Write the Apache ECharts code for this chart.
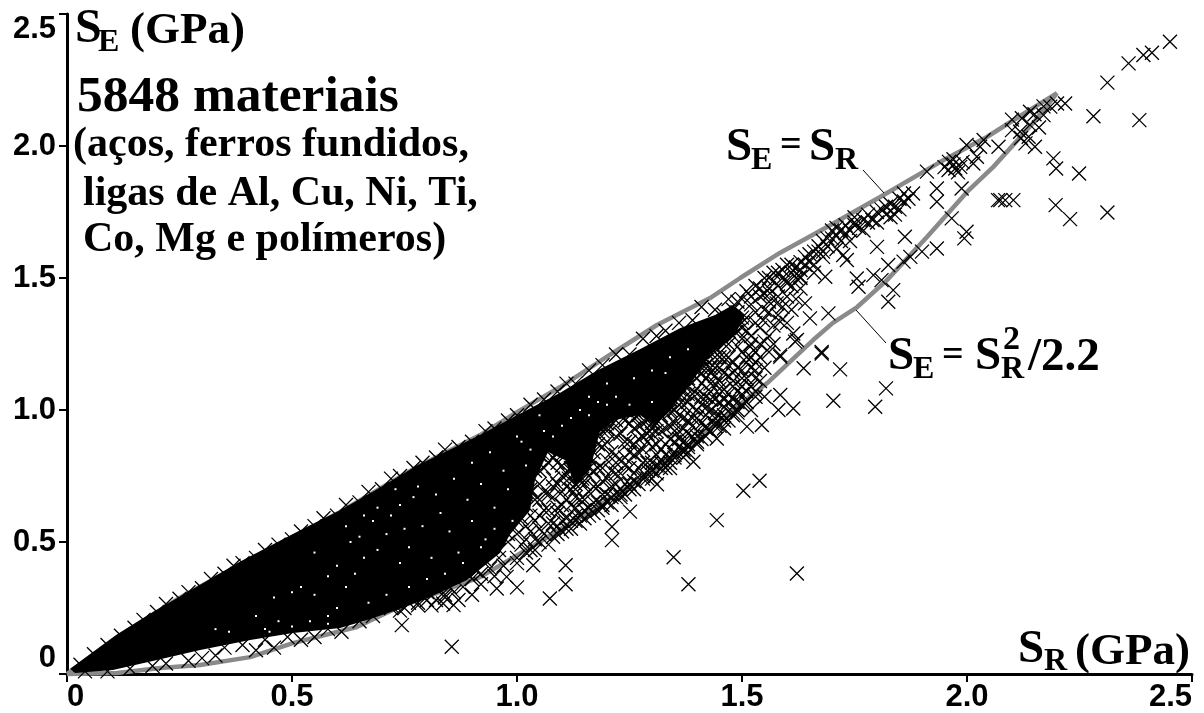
<!DOCTYPE html>
<html><head><meta charset="utf-8">
<style>html,body{margin:0;padding:0;background:#fff}#c{width:1204px;height:713px}</style>
<script src="https://cdn.jsdelivr.net/npm/echarts@6/dist/echarts.min.js"></script>
</head><body><div id="c"></div>
<script>
const tickValues=[0,0.5,1,1.5,2,2.5];
const upperBoundary=[[0,0],[.111,.14],[.25,.288],[.384,.413],[.502,.519],[.607,.614],[.778,.784],[.918,.905],[1,.992],[1.096,1.087],[1.213,1.216],[1.311,1.322],[1.429,1.424],[1.496,1.5],[1.584,1.595],[1.689,1.693],[1.807,1.807],[1.94,1.939],[2.044,2.034],[2.111,2.106],[2.2,2.2]];
const lowerBoundary=[[2.2,2.2],[2.147,2.087],[2.058,1.92],[2,1.826],[1.911,1.655],[1.822,1.492],[1.756,1.39],[1.702,1.33],[1.658,1.265],[1.556,1.102],[1.48,1],[1.391,.875],[1.296,.761],[1.184,.64],[1.058,.508],[.918,.367],[.733,.25],[.644,.178],[.502,.117],[.407,.064],[.296,.034],[.207,.023],[.111,.004],[0,0]];
// outline of the saturated part of the cloud, where the crosses merge into solid black
const saturatedCore=[[.007,.02],[.111,.15],[.191,.235],[.273,.315],[.384,.425],[.502,.53],[.607,.62],[.689,.7],[.778,.79],[.918,.905],[1,.98],[1.096,1.065],[1.178,1.15],[1.273,1.23],[1.362,1.31],[1.44,1.36],[1.48,1.398],[1.507,1.36],[1.484,1.284],[1.429,1.208],[1.384,1.095],[1.344,1.008],[1.307,.943],[1.273,.981],[1.218,.962],[1.184,.917],[1.162,.773],[1.129,.716],[1.107,.811],[1.069,.841],[1.04,.735],[1.029,.621],[.984,.527],[.962,.458],[.889,.356],[.807,.292],[.733,.242],[.667,.205],[.607,.174],[.502,.155],[.407,.129],[.296,.091],[.2,.053],[.102,.015],[.018,.004]];
const sparsePoints=[[2.451,2.395],[2.411,2.353],[2.392,2.345],[2.359,2.313],[2.312,2.24],[2.281,2.113],[2.383,2.098],[2.218,2.161],[2.2,2.161],[2.185,2.149],[2.17,2.117],[2.151,1.997],[2.137,2.035],[2.118,2.054],[2.07,1.997],[2.122,2.105],[2.192,1.953],[2.198,1.915],[2.249,1.896],[2.197,1.776],[2.229,1.723],[2.312,1.748],[2.103,1.795],[2.085,1.795],[2.074,1.795],[2.069,1.795],[1.999,1.675],[1.994,1.65],[1.966,1.726],[1.988,1.839],[1.933,1.839],[1.933,1.789],[1.911,1.903],[1.974,1.915],[1.959,1.909],[1.985,1.921],[2.029,1.997],[1.999,2.004],[2.037,2.023],[2.022,1.959],[2.014,1.934],[.855,.103],[1.073,.286],[1.108,.34],[1.108,.412],[1,.328],[1.211,.507],[1.211,.558],[1.251,.615],[1.348,.442],[1.381,.34],[1.444,.583],[1.503,.694],[1.539,.732],[1.622,.381],[1.311,.719],[1.392,.804],[1.444,.892],[1.511,.937],[1.544,.943],[1.585,1.057],[1.614,1.006],[1.581,1],[1.703,1.035],[1.796,1.012],[1.82,1.082],[1.718,1.154],[1.637,1.158],[1.677,1.214],[1.585,1.202],[1.618,1.259],[.744,.185],[.859,.261],[.836,.267],[.955,.324],[.977,.368],[1.036,.412],[1.862,1.656],[1.8,1.618],[1.733,1.568],[1.725,1.587],[1.933,1.612],[1.9,1.6],[1.874,1.58],[1.859,1.562],[1.825,1.549],[1.792,1.511],[1.81,1.492],[1.755,1.498],[1.759,1.467],[1.836,1.454],[1.825,1.41],[1.685,1.505],[1.64,1.404],[1.692,1.366],[1.651,1.347],[1.585,1.334],[1.614,1.29],[1.622,1.265],[1.677,1.22],[1.585,1.208],[1.518,1.24],[1.547,1.34],[1.562,1.442],[1.6,1.48],[1.629,1.505],[1.577,1.404],[1.54,1.11],[1.5,1.06],[1.52,1.0],[1.47,1.03],[1.44,.97],[1.42,.93],[1.38,.86],[1.35,.83],[1.55,1.05]];
const ridgePoints=[[1.5,1.42],[1.51,1.45],[1.52,1.4],[1.53,1.47],[1.54,1.43],[1.55,1.5],[1.55,1.44],[1.56,1.46],[1.57,1.49],[1.57,1.52],[1.58,1.47],[1.59,1.5],[1.59,1.53],[1.6,1.49],[1.6,1.55],[1.61,1.52],[1.62,1.54],[1.62,1.5],[1.63,1.56],[1.64,1.55],[1.64,1.58],[1.65,1.56],[1.66,1.6],[1.66,1.55],[1.67,1.62],[1.68,1.6],[1.68,1.64],[1.69,1.62],[1.7,1.65],[1.7,1.68],[1.71,1.66],[1.72,1.68],[1.72,1.64],[1.73,1.7],[1.74,1.68],[1.75,1.7],[1.75,1.73],[1.76,1.69],[1.77,1.72],[1.78,1.71],[1.78,1.74],[1.79,1.72],[1.8,1.75],[1.8,1.71],[1.81,1.76],[1.82,1.77],[1.82,1.74],[1.83,1.78],[1.84,1.77],[1.85,1.8],[1.85,1.76],[1.86,1.82],[1.87,1.8],[1.88,1.82],[1.86,1.79],[1.84,1.74],[1.83,1.73],[1.77,1.68],[1.74,1.64],[1.71,1.61],[1.68,1.58],[1.66,1.52],[1.63,1.5],[1.61,1.47],[1.58,1.43],[1.56,1.41],[1.53,1.37],[1.54,1.31],[1.56,1.37],[1.51,1.35],[1.49,1.3],[1.52,1.28],[1.55,1.26],[1.5,1.22],[1.47,1.25],[1.48,1.18],[1.45,1.2],[1.52,1.16],[1.46,1.14],[1.42,1.17],[1.43,1.1],[1.48,1.09],[1.4,1.08],[1.45,1.06],[2.1,2.06],[2.12,2.03],[2.14,2.08],[2.15,2.12],[2.16,2.07],[2.17,2.15],[2.14,2.13],[2.1,2.1],[2.13,2.01],[1.97,1.93],[1.98,1.9],[1.96,1.94],[1.95,1.92],[1.97,1.95],[1.99,1.94],[1.52,1.43],[1.54,1.46],[1.56,1.5],[1.58,1.52],[1.61,1.55],[1.63,1.53],[1.65,1.59],[1.67,1.6],[1.69,1.65],[1.71,1.69],[1.73,1.67],[1.75,1.71],[1.48,1.38],[1.49,1.41],[1.46,1.36],[1.47,1.33],[1.5,1.33],[1.51,1.3],[1.53,1.33],[1.55,1.38],[1.52,1.25],[1.5,1.27],[1.47,1.2],[1.49,1.16],[1.51,1.2],[1.53,1.18],[1.45,1.16],[1.43,1.14],[1.41,1.1],[1.44,1.22]];
const pocketPoints=[[1,.62],[1.01,.68],[1.02,.56],[1.02,.72],[1.03,.6],[1.04,.66],[1.04,.83],[1.05,.55],[1.05,.72],[1.06,.78],[1.06,.62],[1.07,.68],[1.07,.85],[1.08,.57],[1.08,.74],[1.09,.63],[1.09,.8],[1.1,.69],[1.1,.58],[1.11,.76],[1.11,.86],[1.12,.64],[1.12,.82],[1.13,.6],[1.13,.72],[1.14,.79],[1.14,.66],[1.15,.85],[1.15,.62],[1.16,.75],[1.16,.69],[1.17,.92],[1.17,.81],[1.18,.65],[1.18,.87],[1.19,.73],[1.19,.78],[1.2,.68],[1.2,.95],[1.21,.84],[1.21,.71],[1.22,.9],[1.22,.76],[1.23,.67],[1.23,.98],[1.24,.82],[1.24,.72],[1.25,.88],[1.25,.78],[1.26,.93],[1.26,.7],[1.27,.84],[1.27,1],[1.28,.75],[1.28,.9],[1.29,.8],[1.29,.96],[1.3,.86],[1.3,.74],[1.31,1.02],[1.31,.92],[1.32,.78],[1.32,.98],[1.33,.87],[1.33,1.05],[1.34,.82],[1.34,.94],[1.35,1],[1.35,.88],[1.36,1.08],[1.36,.92],[1.37,.84],[1.37,1.02],[1.38,.96],[1.38,1.12],[1.39,.9],[1.39,1.06],[1.4,1],[1.4,.88],[1.41,1.14],[1.41,.95],[1.42,1.05],[1.42,.9],[1.43,1],[1.43,1.16],[1.44,.94],[1.44,1.1],[1.45,1.03],[1.45,.98],[1.46,1.2],[1.46,1.08],[1.47,.96],[1.47,1.13],[1.48,1.04],[1.49,1.24],[1.49,.99],[1.5,1.12],[1.5,1.02],[1.51,1.18],[1.51,1.07],[1.53,1.22],[1.53,1.12],[1.02,.64],[1.05,.66],[1.08,.67],[1.11,.71],[1.13,.67],[1.16,.82],[1.18,.71],[1.21,.77],[1.24,.88],[1.27,.78],[1.3,.8],[1.33,.93],[1.36,.86],[1.39,.97],[1.42,.98],[1.45,1.11],[1.48,1.11],[1.12,.77],[1.15,.72],[1.19,.86],[1.22,.83],[1.26,.83],[1.29,.88],[1.32,.85],[1.35,.95],[1.38,1.03],[1.41,1.02],[1.44,1.04],[1.35,1.06],[1.3,.98],[1.25,.95],[1.28,1.02],[1.2,.88],[1.33,.99],[1.37,.97],[1.4,1.06],[1.43,1.07],[1.46,1.01],[1.31,.83],[1.27,.94],[1.23,.91],[1.17,.77],[1.14,.73],[1.09,.72],[1.06,.69]];
const pocketExtra=[[.98,.5],[.99,.56],[1,.53],[1.01,.59],[1.02,.51],[1.03,.54],[1.03,.69],[1.04,.58],[1.05,.6],[1.06,.53],[1.07,.57],[1.07,.62],[1.08,.71],[1.09,.56],[1.09,.61],[1.1,.64],[1.1,.75],[1.11,.59],[1.11,.66],[1.12,.58],[1.12,.7],[1.13,.63],[1.13,.76],[1.14,.6],[1.15,.66],[1.15,.77],[1.16,.63],[1.17,.65],[1.17,.71],[1.18,.62],[1.18,.78],[1.19,.68],[1.2,.65],[1.2,.74],[1.2,.81],[1.21,.67],[1.22,.72],[1.22,.8],[1.23,.7],[1.23,.76],[1.24,.68],[1.24,.79],[1.25,.72],[1.25,.84],[1.26,.76],[1.26,.87],[1.27,.72],[1.27,.89],[1.28,.8],[1.28,.85],[1.29,.74],[1.29,.91],[1.3,.77],[1.3,.91],[1.31,.79],[1.31,.87],[1.32,.81],[1.32,.92],[1.33,.78],[1.33,.83],[1.34,.89],[1.34,.99],[1.35,.84],[1.35,.92],[1.36,.89],[1.36,.98],[1.37,.88],[1.37,.93],[1.38,.84],[1.38,.91],[1.39,.94],[1.39,1.01],[1.4,.92],[1.4,.97],[1.41,.89],[1.41,1.05],[1.42,.94],[1.42,1.01],[1.43,.92],[1.43,1.04],[1.44,.99],[1.44,1.13],[1.45,.94],[1.45,1.08],[1.46,.98],[1.46,1.04],[1.47,1.06],[1.47,1.17],[1.48,.99],[1.48,1.14],[1.49,1.07],[1.49,1.03],[1.5,1.09],[1.5,1.15],[1.51,1.03],[1.51,1.12],[1.52,1.09],[1.52,1.2],[1.53,1.07],[1.53,1.15],[1.54,1.2],[1.54,1.25],[1.55,1.16],[1.56,1.22],[1.56,1.28],[1.57,1.32],[1.58,1.36],[1.57,1.25],[1.59,1.39],[1.6,1.43],[1.6,1.33],[1.61,1.38],[1.62,1.42],[1.63,1.46],[1.24,1],[1.26,1],[1.29,1.04],[1.31,1.05],[1.33,1.09],[1.35,1.12],[1.37,1.1],[1.39,1.16],[1.41,1.19],[1.42,1.22],[1.44,1.16],[1.3,.95],[1.32,1.03],[1.34,1.04],[1.36,1.02],[1.38,1.06],[1.4,1.12],[1.42,1.12],[1.18,.94],[1.2,.92],[1.22,.94],[1.16,.87],[1.14,.83],[1.12,.87],[1.1,.83],[1.08,.82],[1.06,.83],[1.04,.77],[.96,.44],[.94,.4],[.92,.38],[.93,.43],[.9,.36],[.88,.33],[.89,.38],[.86,.31],[.84,.3],[.85,.33],[.82,.28],[.8,.28],[.78,.26],[.8,.31],[.76,.27],[.74,.24],[.72,.26],[1,.44],[1.01,.49],[1.03,.47],[1.04,.51],[1.05,.5],[1.08,.52],[1.1,.54],[1.12,.55],[1.14,.57],[1.15,.59],[1.17,.61],[1.19,.64],[1.21,.64],[1.23,.68],[1.26,.73],[1.29,.77],[1.32,.8],[1.35,.82],[1.38,.87],[1.4,.9],[1.44,.95],[1.46,.93],[1.34,.78],[1.37,.82]];
const upperFringe=[[.03,.035],[.06,.075],[.09,.11],[.12,.145],[.15,.175],[.17,.205],[.2,.235],[.22,.265],[.25,.285],[.27,.31],[.3,.325],[.32,.36],[.35,.38],[.37,.41],[.39,.42],[.42,.44],[.44,.47],[.47,.49],[.5,.51],[.52,.54],[.55,.56],[.57,.59],[.6,.6],[.62,.64],[.65,.65],[.67,.69],[.7,.7],[.72,.74],[.74,.75],[.77,.78],[.79,.8],[.82,.82],[.84,.85],[.87,.86],[.9,.88],[.93,.92],[.95,.93],[.98,.96],[1,.98],[1.03,1.02],[1.06,1.04],[1.09,1.07],[1.11,1.1],[1.13,1.1],[1.16,1.15],[1.19,1.17],[1.22,1.21],[1.25,1.21],[1.28,1.27],[1.31,1.28],[1.33,1.3],[1.36,1.33],[1.39,1.34],[1.41,1.39],[1.44,1.38],[1.47,1.42],[1.42,1.29],[1.45,1.31],[1.4,1.27],[1.38,1.25],[1.35,1.22],[1.49,1.37],[1.47,1.3],[1.5,1.31],[1.44,1.24],[1.41,1.21],[1.38,1.19],[1.35,1.16],[1.32,1.13],[1.29,1.11],[1.25,1.09],[1.21,1.04],[1.18,1.02],[1.15,.96],[1.14,.91]];
const lowerFringe=[[.04,.01],[.09,.01],[.14,.02],[.19,.03],[.22,.04],[.27,.05],[.3,.06],[.33,.07],[.35,.1],[.39,.11],[.42,.09],[.44,.13],[.46,.1],[.49,.14],[.52,.13],[.55,.14],[.58,.17],[.61,.16],[.65,.2],[.68,.22],[.72,.25],[.75,.25],[.78,.27],[.81,.26],[.84,.29],[.87,.28],[.9,.3],[.92,.34],[.95,.37],[.97,.41],[1,.42],[1.02,.46],[1.04,.47],[1.07,.49],[1.09,.53],[1.11,.55],[1.13,.58],[1.16,.6],[1.19,.63],[1.22,.67],[1.25,.7],[1.28,.74],[1.31,.76],[1.34,.8],[1.37,.85],[1.4,.87],[1.43,.92],[1.46,.96],[1.48,.98],[1.49,1],[1.51,1.03],[1.53,1.05]];
// crosses that straddle the edge of the saturated area
const coreEdge=[[1.03,.7],[1.05,.77],[1.07,.8],[1.09,.84],[1.1,.79],[1.115,.74],[1.13,.7],[1.145,.74],[1.16,.78],[1.17,.84],[1.18,.9],[1.2,.93],[1.22,.96],[1.24,.96],[1.26,.97],[1.28,.95],[1.3,.93],[1.32,.97],[1.34,1],[1.36,1.05],[1.38,1.09],[1.4,1.15],[1.42,1.19],[1.44,1.2],[1.46,1.25],[1.48,1.28],[1.5,1.35],[1.05,.83],[1.12,.78],[1.19,.92],[1.27,.98],[1.31,.95],[1.37,1.07],[1.41,1.16],[1,.58],[.98,.53],[.96,.47],[.91,.39],[1.01,.64],[1.02,.68]];
// small unfilled specks left between crosses inside the saturated area
const coreGaps=[[.46,.29],[.5,.31],[.52,.33],[.55,.3],[.58,.37],[.6,.41],[.62,.33],[.64,.38],[.66,.44],[.69,.47],[.71,.53],[.74,.42],[.76,.48],[.79,.56],[.81,.44],[.83,.61],[.85,.54],[.87,.46],[.89,.66],[.9,.58],[.92,.72],[.93,.51],[.95,.63],[.97,.77],[.98,.7],[.99,.58],[.42,.22],[.44,.17],[.47,.2],[.5,.18],[.36,.16],[.33,.17],[.58,.22],[.6,.25],[.72,.6],[.74,.64],[.75,.55],[.77,.67],[.68,.58],[.66,.6],[.63,.5],[.55,.46],[1.03,.85],[1.06,.92],[1.1,.94],[1.14,1.0],[1.16,1.05],[1.2,1.1],[1.05,.98],[1.01,.88],[.62,.56],[.65,.52],[.69,.63],[.73,.7],[.78,.71],[.82,.68],[.86,.74],[.9,.8],[.94,.84],[1,.9],[1.02,.79],[1.08,.9],[1.12,.97],[1.18,1.03],[1.22,1.05],[1.26,1.12],[1.3,1.15],[1.34,1.2],[1.38,1.23],[1.25,1.02],[1.3,1.03],[1.33,1.14],[1.2,1.02],[1.16,.98],[.95,.55],[.92,.48],[.88,.42],[.84,.38],[.8,.36],[.76,.33],[.71,.3],[.67,.27],[.54,.2],[.58,.19],[.45,.16]];
const tickText=v=>v===0?'0':v.toFixed(1);
const textItems=[
 ['S',75,30,48],['E',98,43,32],['(GPa)',130,31,45],
 ['5848 materiais',77,98,51.5],
 ['(aços, ferros fundidos,',73,145,42],['ligas de Al, Cu, Ni, Ti,',83,194,42],['Co, Mg e polímeros)',83,240,42],
 ['S',726,148,47],['E',751,161,32],['=',780,146,38],['S',809,148,47],['R',835,161,32],
 ['S',888,357,47],['E',913,370,32],['=',942,356,38],['S',975,357,47],['2',1003,340,34],['R',1001,370,32],['/2.2',1028,358,47],
 ['S',1018,650,47],['R',1044,662,32],['(GPa)',1075,652,45]
];
const leaderLines=[[863,170,884,193],[856,310,886,343]];
const chart=echarts.init(document.getElementById('c'),null,{renderer:'canvas'});
const cross='path://M0 0L10 10M10 0L0 10';
const markSeries=data=>({type:'scatter',data,symbol:cross,symbolSize:14,clip:false,silent:true,z:4,itemStyle:{color:'transparent',borderColor:'#000',borderWidth:1.3,opacity:1}});
const greyLine=data=>({type:'line',data,symbol:'none',clip:false,silent:true,z:2,lineStyle:{color:'#8a8a8a',width:4.5}});
const axisCommon={type:'value',min:0,max:2.5,interval:.5,splitLine:{show:false},
 axisLine:{show:true,onZero:false,lineStyle:{color:'#000',width:3}},axisTick:{show:true,length:8,lineStyle:{color:'#000',width:2}}};
const labelFont={color:'#000',fontFamily:'Liberation Sans',fontWeight:'bold',fontSize:31,formatter:tickText};
chart.setOption({animation:false,backgroundColor:'#fff',
 grid:{left:67,top:14,width:1125,height:660,containLabel:false},
 xAxis:Object.assign({},axisCommon,{axisLabel:Object.assign({},labelFont,{margin:8,alignMinLabel:'left',alignMaxLabel:'right'})}),
 yAxis:Object.assign({},axisCommon,{axisLabel:Object.assign({},labelFont,{margin:11,verticalAlignMinLabel:'bottom',verticalAlignMaxLabel:'top'})}),
 series:[greyLine(upperBoundary),greyLine(lowerBoundary),
  {type:'custom',coordinateSystem:'cartesian2d',silent:true,z:3,clip:false,data:[0],
   renderItem:(p,api)=>({type:'polygon',shape:{points:saturatedCore.map(d=>api.coord(d))},style:{fill:'#000'}})},
  markSeries(sparsePoints),markSeries(ridgePoints),markSeries(pocketPoints),markSeries(pocketExtra),markSeries(upperFringe),markSeries(lowerFringe),markSeries(coreEdge),
  {type:'scatter',data:coreGaps,symbol:'rect',symbolSize:2,silent:true,z:5,itemStyle:{color:'#fff',opacity:1}}],
 graphic:[
  ...textItems.map(([t,x,y,s])=>({type:'text',x,y,z:20,silent:true,style:{text:t,font:`bold ${s}px "Liberation Serif"`,fill:'#000',verticalAlign:'middle',align:'left'}})),
  ...leaderLines.map(([x1,y1,x2,y2])=>({type:'line',z:20,silent:true,shape:{x1,y1,x2,y2},style:{stroke:'#000',lineWidth:1}}))
 ]});
</script></body></html>
